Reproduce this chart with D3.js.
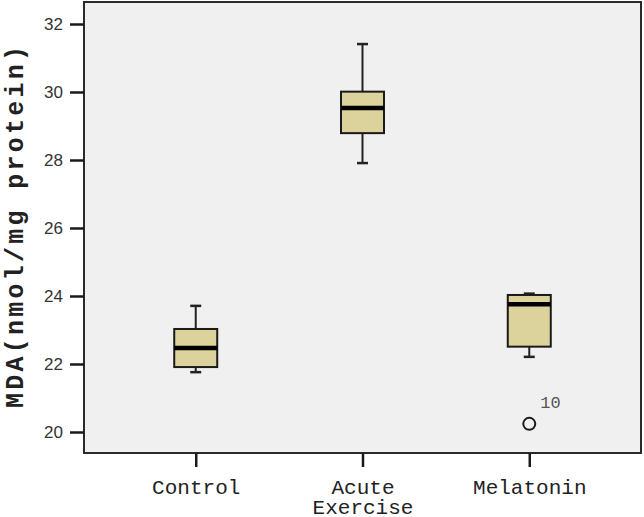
<!DOCTYPE html>
<html>
<head>
<meta charset="utf-8">
<script src="https://cdn.jsdelivr.net/npm/d3@7"></script>
<style>
  body { margin: 0; background: #fff; }
  svg { display: block; }
</style>
</head>
<body>
<div id="chart"></div>
<script>
// data
const groups   = ['Control', 'Acute Exercise', 'Melatonin'];
const whiskLo  = [21.76, 27.91, 22.21];
const q1       = [21.91, 28.79, 22.51];
const medians  = [22.47, 29.53, 23.76];
const q3       = [23.03, 30.01, 24.03];
const whiskHi  = [23.71, 31.41, 24.07];
const outliers = [{ group: 'Melatonin', value: 20.24, label: '10' }];
const yTicks   = [20, 22, 24, 26, 28, 30, 32];

const width = 644, height = 517;
const frame = { left: 84, right: 641, top: 2, bottom: 453 };

const svg = d3.select('#chart').append('svg')
  .attr('width', width)
  .attr('height', height);

const x = d3.scalePoint().domain(groups).range([frame.left, frame.right]).padding(0.67);
const y = d3.scaleLinear().domain([20, 32]).range([432, 24]);

// plot area
svg.append('rect')
  .attr('x', frame.left).attr('y', frame.top)
  .attr('width', frame.right - frame.left).attr('height', frame.bottom - frame.top)
  .attr('fill', '#f0f0f0')
  .attr('stroke', '#2a2a2a')
  .attr('stroke-width', 2);

// y axis
const yAxis = svg.append('g')
  .attr('transform', `translate(${frame.left},0)`)
  .call(d3.axisLeft(y).tickValues(yTicks).tickSize(14).tickPadding(7).tickFormat(d3.format('d')));
yAxis.select('.domain').remove();
yAxis.selectAll('.tick line').attr('stroke', '#1a1a1a').attr('stroke-width', 2.5);
yAxis.selectAll('.tick text')
  .attr('font-family', 'Liberation Sans, Arial, sans-serif')
  .attr('font-size', 17)
  .attr('fill', '#333');

// x axis
const xAxis = svg.append('g')
  .attr('transform', `translate(0,${frame.bottom})`)
  .call(d3.axisBottom(x).tickSize(14).tickFormat(''));
xAxis.select('.domain').remove();
xAxis.selectAll('.tick line').attr('stroke', '#1a1a1a').attr('stroke-width', 2.5);

xAxis.selectAll('.tick').each(function(d) {
  const t = d3.select(this).append('text')
    .attr('text-anchor', 'middle')
    .attr('font-family', 'Liberation Mono, Courier New, monospace')
    .attr('font-size', 21)
    .attr('fill', '#222');
  d.split(' ').forEach((w, i) => {
    t.append('tspan').attr('x', 0).attr('y', 41 + i * 20).text(w);
  });
});

// y title
svg.append('text')
  .attr('transform', `translate(23,227) rotate(-90)`)
  .attr('text-anchor', 'middle')
  .attr('font-family', 'Liberation Mono, Courier New, monospace')
  .attr('font-weight', 'bold')
  .attr('font-size', 25)
  .attr('fill', '#222')
  .attr('textLength', 362)
  .attr('lengthAdjust', 'spacing')
  .text('MDA(nmol/mg protein)');

// boxes
const boxW = 43, capW = 11;
const boxes = groups.map((g, i) => ({ g, lo: whiskLo[i], q1: q1[i], med: medians[i], q3: q3[i], hi: whiskHi[i] }));
const gBox = svg.append('g').selectAll('g').data(boxes).join('g')
  .attr('transform', d => `translate(${x(d.g)},0)`);

gBox.append('line')
  .attr('x1', 0).attr('x2', 0)
  .attr('y1', d => y(d.hi)).attr('y2', d => y(d.lo))
  .attr('stroke', '#222').attr('stroke-width', 2);
gBox.selectAll('.cap').data(d => [d.lo, d.hi]).join('line')
  .attr('class', 'cap')
  .attr('x1', -capW / 2).attr('x2', capW / 2)
  .attr('y1', d => y(d)).attr('y2', d => y(d))
  .attr('stroke', '#222').attr('stroke-width', 2.5);
gBox.append('rect')
  .attr('x', -boxW / 2).attr('width', boxW)
  .attr('y', d => y(d.q3)).attr('height', d => y(d.q1) - y(d.q3))
  .attr('fill', '#dcd29c')
  .attr('stroke', '#1a1a1a').attr('stroke-width', 2);
gBox.append('line')
  .attr('x1', -boxW / 2).attr('x2', boxW / 2)
  .attr('y1', d => y(d.med)).attr('y2', d => y(d.med))
  .attr('stroke', '#000').attr('stroke-width', 4.5);

// outliers
const gOut = svg.append('g').selectAll('g').data(outliers).join('g');
gOut.append('circle')
  .attr('cx', d => x(d.group)).attr('cy', d => y(d.value))
  .attr('r', 6)
  .attr('fill', 'none').attr('stroke', '#1a1a1a').attr('stroke-width', 2);
gOut.append('text')
  .attr('x', d => x(d.group) + 11).attr('y', d => y(d.value) - 16)
  .attr('font-family', 'Liberation Mono, Courier New, monospace')
  .attr('font-size', 17)
  .attr('fill', '#555')
  .text(d => d.label);
</script>
</body>
</html>
